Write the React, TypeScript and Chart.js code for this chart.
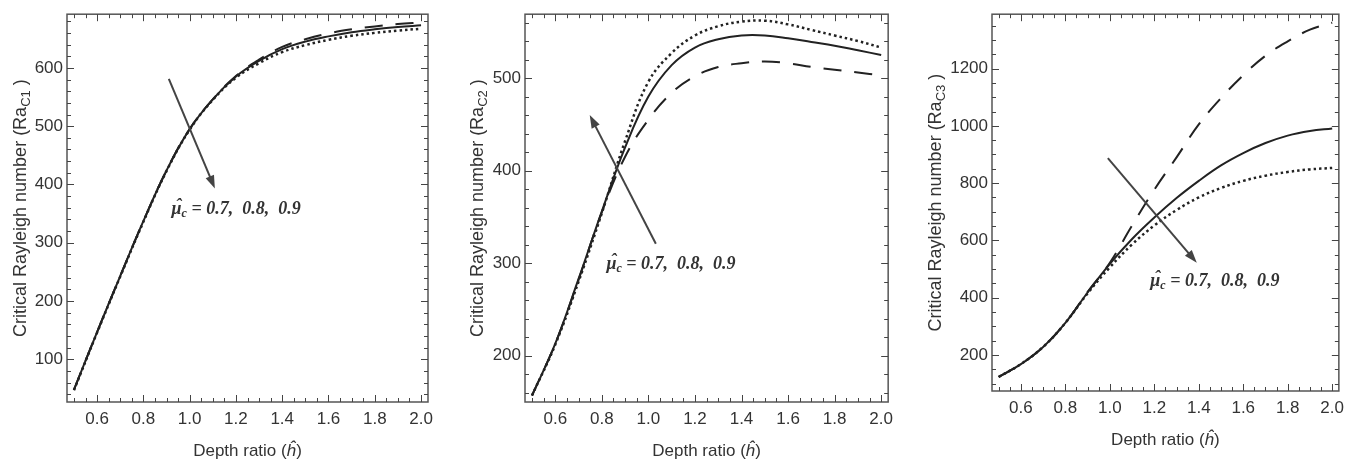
import React, { useEffect, useRef } from "react";
import { Chart, registerables } from "chart.js";

Chart.register(...registerables);

// ---------- data ----------
const depthRatio = [0.5, 0.6, 0.7, 0.8, 0.9, 1.0, 1.1, 1.2, 1.3, 1.4, 1.5, 1.6, 1.7, 1.8, 1.9, 2.0];
const xTickValues = [0.6, 0.8, 1.0, 1.2, 1.4, 1.6, 1.8, 2.0];
const muLabels = ["0.7", "0.8", "0.9"];

// Panel 1: Ra_C1
const rac1Mu07 = [48, 147, 243, 337, 424, 495, 546, 586, 614, 636, 649, 659, 666, 671, 675, 678];
const rac1Mu08 = [48, 147, 243, 337, 424, 495, 546, 585, 612, 632, 645, 654, 661, 666, 670, 673];
const rac1Mu09 = [47, 146, 242, 336, 423, 494, 545, 583, 608, 627, 639, 648, 655, 660, 664, 667];
const rac1Ticks = [100, 200, 300, 400, 500, 600];

// Panel 2: Ra_C2
const rac2Mu07 = [157, 213, 282, 355, 415, 455, 484, 502, 512, 516, 518, 516, 512, 509, 506, 503];
const rac2Mu08 = [157, 213, 283, 356, 425, 480, 514, 533, 542, 546, 546, 543, 539, 535, 530, 525];
const rac2Mu09 = [157, 212, 280, 354, 432, 496, 527, 546, 556, 561, 562, 558, 552, 546, 540, 533];
const rac2Ticks = [200, 300, 400, 500];

// Panel 3: Ra_C3
const rac3Mu07 = [123, 168, 228, 312, 420, 522, 652, 777, 890, 1005, 1097, 1177, 1245, 1295, 1336, 1360];
const rac3Mu08 = [123, 168, 228, 312, 418, 518, 605, 680, 748, 808, 862, 905, 940, 966, 982, 991];
const rac3Mu09 = [123, 168, 228, 312, 415, 506, 586, 652, 706, 750, 783, 808, 826, 839, 848, 853];
const rac3Ticks = [200, 400, 600, 800, 1000, 1200];

// ---------- styling / layout ----------
const SANS = '"Liberation Sans", Arial, sans-serif';
const SERIF = '"Liberation Serif", "Times New Roman", serif';
const INK = "#333";
const LINE = "#222";
const FRAME = "#555";

type Part = { text: string; font: string; dy?: number; hat?: boolean };

type PanelCfg = {
  left: number;
  width: number;
  plotLeft: number;
  plotRight: number;
  plotTop: number;
  plotBottom: number;
  xMin: number;
  xMax: number;
  yMin: number;
  yMax: number;
  yTicks: number[];
  yMinor: number;
  yTitleX: number;
  sub: string;
  series: number[][];
  arrow: { from: [number, number]; to: [number, number] };
  label: [number, number];
};

const panels: PanelCfg[] = [
  {
    left: 0, width: 450, plotLeft: 67, plotRight: 428, plotTop: 9, plotBottom: 402,
    xMin: 0.47, xMax: 2.03, yMin: 27, yMax: 692, yTicks: rac1Ticks, yMinor: 20, yTitleX: 20,
    sub: "C1", series: [rac1Mu07, rac1Mu08, rac1Mu09],
    arrow: { from: [0.91, 581], to: [1.109, 393] }, label: [0.922, 350],
  },
  {
    left: 450, width: 450, plotLeft: 525, plotRight: 886, plotTop: 9, plotBottom: 402,
    xMin: 0.47, xMax: 2.03, yMin: 150, yMax: 569, yTicks: rac2Ticks, yMinor: 20, yTitleX: 477,
    sub: "C2", series: [rac2Mu07, rac2Mu08, rac2Mu09],
    arrow: { from: [1.032, 321], to: [0.748, 460] }, label: [0.82, 294],
  },
  {
    left: 900, width: 451, plotLeft: 992, plotRight: 1343, plotTop: 7, plotBottom: 391,
    xMin: 0.47, xMax: 2.03, yMin: 74, yMax: 1390, yTicks: rac3Ticks, yMinor: 50, yTitleX: 935,
    sub: "C3", series: [rac3Mu07, rac3Mu08, rac3Mu09],
    arrow: { from: [0.991, 887], to: [1.391, 522] }, label: [1.182, 439],
  },
];

const seriesStyles = [
  { borderDash: [18, 13], borderWidth: 2 },
  { borderDash: [] as number[], borderWidth: 2 },
  { borderDash: [2.5, 3], borderWidth: 2.5 },
];

function drawParts(ctx: CanvasRenderingContext2D, parts: Part[], x: number, y: number, align: "left" | "center") {
  let w = 0;
  for (const p of parts) {
    ctx.font = p.font;
    w += ctx.measureText(p.text).width;
  }
  let cx = align === "center" ? x - w / 2 : x;
  ctx.textAlign = "left";
  ctx.textBaseline = "alphabetic";
  for (const p of parts) {
    ctx.font = p.font;
    const tw = ctx.measureText(p.text).width;
    ctx.fillText(p.text, cx, y + (p.dy || 0));
    if (p.hat) {
      ctx.textAlign = "center";
      ctx.fillText("\u02C6", cx + tw / 2 + 2, y + (p.dy || 0) - 3);
      ctx.textAlign = "left";
    }
    cx += tw;
  }
}

function makeDecorPlugin(cfg: PanelCfg) {
  return {
    id: "decor",
    afterDraw(chart: any) {
      const ctx: CanvasRenderingContext2D = chart.ctx;
      const { left, right, top, bottom } = chart.chartArea;
      const xs = chart.scales.x;
      const ys = chart.scales.y;
      ctx.save();
      // frame
      ctx.strokeStyle = FRAME;
      ctx.lineWidth = 1.5;
      ctx.strokeRect(left, top, right - left, bottom - top);
      // ticks on all four sides, pointing inward
      ctx.lineWidth = 1;
      ctx.strokeStyle = "#444";
      for (let k = 0; k <= 30; k++) {
        const v = 0.5 + k * 0.05;
        const major = Math.abs(v / 0.2 - Math.round(v / 0.2)) < 1e-6;
        const len = major ? 7 : 4;
        const px = Math.round(xs.getPixelForValue(v)) + 0.5;
        ctx.beginPath();
        ctx.moveTo(px, bottom);
        ctx.lineTo(px, bottom - len);
        ctx.moveTo(px, top);
        ctx.lineTo(px, top + len);
        ctx.stroke();
      }
      const yMajorStep = cfg.yTicks[1] - cfg.yTicks[0];
      for (let v = Math.ceil(cfg.yMin / cfg.yMinor) * cfg.yMinor; v <= cfg.yMax; v += cfg.yMinor) {
        const major = v % yMajorStep === 0;
        const len = major ? 7 : 4;
        const py = Math.round(ys.getPixelForValue(v)) + 0.5;
        ctx.beginPath();
        ctx.moveTo(left, py);
        ctx.lineTo(left + len, py);
        ctx.moveTo(right, py);
        ctx.lineTo(right - len, py);
        ctx.stroke();
      }
      // axis titles
      ctx.fillStyle = INK;
      const cxMid = (left + right) / 2;
      drawParts(
        ctx,
        [
          { text: "Depth ratio (", font: `17px ${SANS}` },
          { text: "ĥ", font: `italic 17px ${SANS}` },
          { text: ")", font: `17px ${SANS}` },
        ],
        cxMid,
        bottom + 54,
        "center"
      );
      ctx.save();
      ctx.translate(cfg.yTitleX - cfg.left + 6, (top + bottom) / 2);
      ctx.rotate(-Math.PI / 2);
      drawParts(
        ctx,
        [
          { text: "Critical Rayleigh number (Ra", font: `18px ${SANS}` },
          { text: cfg.sub, font: `13px ${SANS}`, dy: 4 },
          { text: " )", font: `18px ${SANS}` },
        ],
        0,
        0,
        "center"
      );
      ctx.restore();
      // arrow
      const x1 = xs.getPixelForValue(cfg.arrow.from[0]);
      const y1 = ys.getPixelForValue(cfg.arrow.from[1]);
      const x2 = xs.getPixelForValue(cfg.arrow.to[0]);
      const y2 = ys.getPixelForValue(cfg.arrow.to[1]);
      const ang = Math.atan2(y2 - y1, x2 - x1);
      const headLen = 13;
      const headW = 4.5;
      ctx.strokeStyle = "#444";
      ctx.fillStyle = "#444";
      ctx.lineWidth = 2;
      ctx.beginPath();
      ctx.moveTo(x1, y1);
      ctx.lineTo(x2 - Math.cos(ang) * headLen * 0.8, y2 - Math.sin(ang) * headLen * 0.8);
      ctx.stroke();
      ctx.beginPath();
      ctx.moveTo(x2, y2);
      ctx.lineTo(
        x2 - Math.cos(ang) * headLen - Math.sin(ang) * headW,
        y2 - Math.sin(ang) * headLen + Math.cos(ang) * headW
      );
      ctx.lineTo(
        x2 - Math.cos(ang) * headLen + Math.sin(ang) * headW,
        y2 - Math.sin(ang) * headLen - Math.cos(ang) * headW
      );
      ctx.closePath();
      ctx.fill();
      // label
      ctx.fillStyle = "#333";
      const lx = xs.getPixelForValue(cfg.label[0]);
      const ly = ys.getPixelForValue(cfg.label[1]);
      drawParts(
        ctx,
        [
          { text: "μ", font: `bold italic 18px ${SERIF}`, hat: true },
          { text: "c", font: `bold italic 12px ${SERIF}`, dy: 3 },
          { text: ` = ${muLabels[0]},  ${muLabels[1]},  ${muLabels[2]}`, font: `bold italic 18px ${SERIF}` },
        ],
        lx,
        ly,
        "left"
      );
      ctx.restore();
    },
  };
}

function Panel({ cfg }: { cfg: PanelCfg }) {
  const ref = useRef<HTMLCanvasElement | null>(null);
  useEffect(() => {
    if (!ref.current) return;
    const H = 462;
    const chart = new Chart(ref.current, {
      type: "line",
      data: {
        labels: depthRatio,
        datasets: cfg.series.map((s, i) => ({
          label: `μc = ${muLabels[i]}`,
          data: depthRatio.map((x, j) => ({ x, y: s[j] })),
          borderColor: LINE,
          borderWidth: seriesStyles[i].borderWidth,
          borderDash: seriesStyles[i].borderDash,
          pointRadius: 0,
          fill: false,
          tension: 0.4,
          borderCapStyle: "butt" as const,
        })),
      },
      options: {
        animation: false,
        responsive: false,
        devicePixelRatio: 1,
        layout: {
          padding: { left: 0, top: cfg.plotTop, right: cfg.width - cfg.plotRight, bottom: 0 },
        },
        plugins: { legend: { display: false }, tooltip: { enabled: false }, title: { display: false } },
        scales: {
          x: {
            type: "linear",
            min: cfg.xMin,
            max: cfg.xMax,
            grid: { display: false, drawTicks: false },
            border: { display: false },
            afterBuildTicks: (scale: any) => {
              scale.ticks = xTickValues.map((v) => ({ value: v }));
            },
            afterFit: (scale: any) => {
              scale.height = H - cfg.plotBottom;
            },
            ticks: {
              padding: 7,
              color: INK,
              font: { family: SANS, size: 17 },
              maxRotation: 0,
              autoSkip: false,
              callback: (v: any) => Number(v).toFixed(1),
            },
          },
          y: {
            type: "linear",
            min: cfg.yMin,
            max: cfg.yMax,
            grid: { display: false, drawTicks: false },
            border: { display: false },
            afterBuildTicks: (scale: any) => {
              scale.ticks = cfg.yTicks.map((v) => ({ value: v }));
            },
            afterFit: (scale: any) => {
              scale.width = cfg.plotLeft - cfg.left;
            },
            ticks: {
              padding: 4,
              color: INK,
              font: { family: SANS, size: 17 },
              autoSkip: false,
              callback: (v: any) => String(v),
            },
          },
        },
      },
      plugins: [makeDecorPlugin(cfg)],
    } as any);
    return () => chart.destroy();
  }, [cfg]);
  return (
    <div style={{ position: "absolute", left: cfg.left, top: 0, width: cfg.width, height: 462 }}>
      <canvas ref={ref} width={cfg.width} height={462} style={{ width: cfg.width, height: 462, display: "block" }} />
    </div>
  );
}

export default function App() {
  return (
    <div style={{ position: "absolute", left: 0, top: 0, width: 1351, height: 462, background: "#fff", overflow: "hidden" }}>
      {panels.map((p, i) => (
        <Panel key={i} cfg={p} />
      ))}
    </div>
  );
}
